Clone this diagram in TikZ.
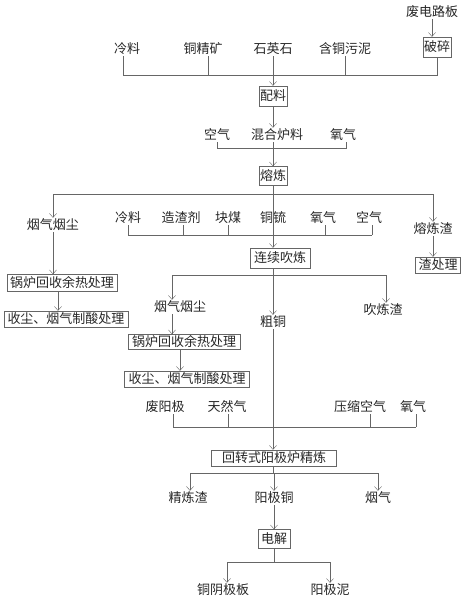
\documentclass[tikz,border=0pt]{standalone}
\usepackage{fontspec}
\setmainfont{Noto Sans CJK SC}
\usetikzlibrary{arrows.meta}

\begin{document}
\begin{tikzpicture}[x=1pt,y=-1pt]
  \tikzset{every node/.style = {font=\fontsize{13}{15}\selectfont,text=black!85}}
  \tikzset{item/.style = {inner sep=1pt}}
  \tikzset{box/.style = {draw=black!60,inner xsep=3pt,inner ysep=2pt}}
  \tikzset{bigbox/.style = {box,minimum height=20pt}}
  \tikzset{edge/.style = {draw=black!60,-{Straight Barb[length=4pt,width=7pt]}}}
  \tikzset{line/.style = {draw=black!60}}
  \useasboundingbox (0,0) rectangle (466,600);

  % charge
  \node[item] (fdlb) at (432,12) {废电路板};
  \node[bigbox,inner xsep=1pt] (ps) at (437,47) {破碎};
  \node[item] (lliao1) at (127,49) {冷料};
  \node[item] (tjk) at (203,49) {铜精矿};
  \node[item] (syx) at (273,49) {石英石};
  \node[item] (htwn) at (345,49) {含铜污泥};
  \coordinate (j1) at (273,75);
  \node[bigbox,inner xsep=1pt] (pl) at (273,96) {配料};
  \node[item] (kq1) at (217,135) {空气};
  \node[item] (hhll) at (277,135) {混合炉料};
  \node[item] (yq1) at (343,135) {氧气};
  \coordinate (j2) at (273,148);
  \node[bigbox,inner xsep=1pt,minimum height=19pt] (rl) at (273,176) {熔炼};

  % smelting
  \coordinate (j3) at (273,194);
  \node[item] (yqyc1) at (53,225) {烟气烟尘};
  \node[item] (rlz) at (433,229) {熔炼渣};
  \node[box] (zcl) at (438,265) {渣处理};
  \node[item] (lliao2) at (128,218) {冷料};
  \node[item] (zzj) at (181,218) {造渣剂};
  \node[item] (km) at (228,218) {块煤};
  \node[item] (tl) at (273,218) {铜锍};
  \node[item] (yq2) at (323,218) {氧气};
  \node[item] (kq2) at (369,218) {空气};
  \coordinate (j4) at (273,235);
  \node[bigbox,inner xsep=4pt] (lxcl) at (280,258) {连续吹炼};
  \node[box,inner ysep=2.5pt] (glyr1) at (62,283) {锅炉回收余热处理};
  \node[box,inner xsep=3.5pt] (scsl1) at (66,319) {收尘、烟气制酸处理};

  % converting
  \coordinate (j5) at (273,275);
  \node[item] (yqyc2) at (180,307) {烟气烟尘};
  \node[item] (cut) at (273,322) {粗铜};
  \node[item] (clz) at (383,310) {吹炼渣};
  \node[box,inner xsep=4pt,inner ysep=1.5pt] (glyr2) at (184,342) {锅炉回收余热处理};
  \node[box,inner xsep=4pt] (scsl2) at (187,379) {收尘、烟气制酸处理};

  % refining
  \node[item] (fyj) at (165,407) {废阳极};
  \node[item] (trq) at (227,407) {天然气};
  \node[item] (yskq) at (360,407) {压缩空气};
  \node[item] (yq3) at (413,407) {氧气};
  \coordinate (j6) at (273,427);
  \node[box,minimum width=125pt] (hzs) at (274,458) {回转式阳极炉精炼};
  \coordinate (j7) at (273,473);
  \node[item] (jlz) at (188,498) {精炼渣};
  \node[item] (yjt) at (274,498) {阳极铜};
  \node[item] (yq4) at (378,498) {烟气};
  \node[bigbox,minimum height=19pt] (dj) at (274,539) {电解};
  \coordinate (j8) at (274,562);
  \node[item] (tyjb) at (223,590) {铜阴极板};
  \node[item] (yjn) at (330,590) {阳极泥};

  % connectors
  \draw[edge] (fdlb) -- (fdlb |- ps.north);
  \draw[line] ([xshift=-4pt]lliao1.south) -- ([xshift=-4pt]lliao1.south |- j1) -- (ps.south |- j1) -- (ps.south);
  \foreach \from/\dx in {tjk/5,htwn/0}
    \draw[line] ([xshift=\dx pt]\from.south) -- ([xshift=\dx pt]\from.south |- j1);
  \draw[edge] (syx) -- (pl);
  \draw[edge] (pl) -- (pl |- hhll.north);
  \draw[line] (kq1.south) -- (kq1.south |- j2) -- ([xshift=3pt]yq1.south |- j2) -- ([xshift=3pt]yq1.south);
  \draw[edge] (pl |- hhll.south) -- (rl);

  \draw[line] (yqyc1 |- j3) -- (rlz |- j3);
  \foreach \to in {yqyc1,rlz}
    \draw[edge] (\to |- j3) -- (\to);
  \draw[edge] (rlz) -- (rlz |- zcl.north);
  \draw[edge] (yqyc1) -- (yqyc1 |- glyr1.north);
  \draw[edge] ([xshift=-4pt]glyr1.south) -- ([xshift=-4pt]glyr1.south |- scsl1.north);
  \draw[line] (lliao2.south |- j4) -- ([xshift=3pt]kq2.south |- j4);
  \foreach \from/\dx in {lliao2/0,zzj/2,km/0,yq2/2,kq2/3}
    \draw[line] ([xshift=\dx pt]\from.south) -- ([xshift=\dx pt]\from.south |- j4);
  \draw[edge] (rl) -- (rl |- lxcl.north);

  \draw[line] (rl |- lxcl.south) -- (j5);
  \draw[line] ([xshift=-8pt]yqyc2.north |- j5) -- ([xshift=3pt]clz.north |- j5);
  \draw[edge] ([xshift=-8pt]yqyc2.north |- j5) -- ([xshift=-8pt]yqyc2.north);
  \draw[edge] (j5) -- (cut);
  \draw[edge] ([xshift=3pt]clz.north |- j5) -- ([xshift=3pt]clz.north);
  \draw[edge] ([xshift=-8pt]yqyc2.south) -- ([xshift=-8pt]yqyc2.south |- glyr2.north);
  \draw[edge] ([xshift=-4pt]glyr2.south) -- ([xshift=-4pt]glyr2.south |- scsl2.north);

  \draw[line] ([xshift=8pt]fyj.south |- j6) -- ([xshift=3pt]yq3.south |- j6);
  \foreach \from/\dx in {fyj/8,trq/1,yskq/10,yq3/3}
    \draw[line] ([xshift=\dx pt]\from.south) -- ([xshift=\dx pt]\from.south |- j6);
  \draw[edge] (cut) -- (cut |- hzs.north);
  \draw[line] (cut |- hzs.south) -- (j7);
  \draw[line] ([xshift=2pt]jlz |- j7) -- (yq4 |- j7);
  \foreach \to/\dx in {jlz/2,yjt/0,yq4/0}
    \draw[edge] ([xshift=\dx pt]\to |- j7) -- ([xshift=\dx pt]\to.north);
  \draw[edge] (yjt) -- (dj);
  \draw[line] (dj) -- (j8);
  \draw[line] ([xshift=4pt]tyjb |- j8) -- (yjn |- j8);
  \foreach \to/\dx in {tyjb/4,yjn/0}
    \draw[edge] ([xshift=\dx pt]\to |- j8) -- ([xshift=\dx pt]\to.north);
\end{tikzpicture}
\end{document}
